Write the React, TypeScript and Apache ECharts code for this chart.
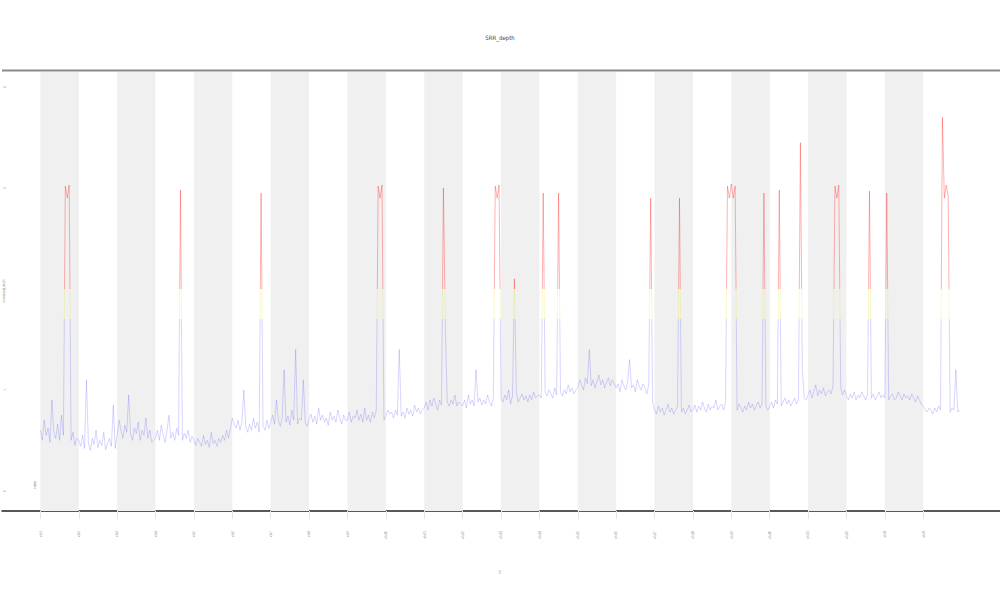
import React, { useEffect, useRef } from "react";
import * as echarts from "echarts";

const chartTitle = "SRR_depth";
const yAxisTitle = "normalized_depth";
const xAxisTitle = "bin";
const legendLabel = "ratio";

const segmentLabels = [
  "chr1", "chr2", "chr3", "chr4", "chr5", "chr6", "chr7", "chr8",
  "chr9", "chr10", "chr11", "chr12", "chr13", "chr14", "chr15", "chr16",
  "chr17", "chr18", "chr19", "chr20", "chr21", "chr22", "chrX", "chrY",
];

const yTickValues = [0, 1, 2, 3, 4];

// values per segment (20 samples each)
const segmentValues: number[][] = [
  [0.6, 0.5, 0.7, 0.55, 0.62, 0.48, 0.9, 0.58, 0.52, 0.66, 0.5, 0.75, 0.55, 3.02, 2.9, 3.03, 0.5, 0.58, 0.45, 0.52],
  [0.5, 0.44, 0.55, 0.42, 1.1, 0.48, 0.4, 0.52, 0.46, 0.6, 0.43, 0.5, 0.45, 0.58, 0.41, 0.47, 0.52, 0.44, 0.85, 0.42],
  [0.55, 0.7, 0.6, 0.52, 0.65, 0.58, 0.95, 0.56, 0.5, 0.62, 0.57, 0.68, 0.5, 0.6, 0.55, 0.72, 0.52, 0.6, 0.48, 0.5],
  [0.52, 0.6, 0.5, 0.65, 0.55, 0.48, 0.6, 0.75, 0.52, 0.58, 0.5, 0.62, 0.55, 2.98, 0.5, 0.57, 0.52, 0.6, 0.48, 0.54],
  [0.5, 0.45, 0.52, 0.48, 0.44, 0.55, 0.46, 0.5, 0.43, 0.58, 0.47, 0.5, 0.44, 0.52, 0.48, 0.55, 0.5, 0.6, 0.52, 0.62],
  [0.72, 0.66, 0.62, 0.7, 0.6, 0.68, 1.0, 0.64, 0.58, 0.66, 0.6, 0.72, 0.62, 0.68, 0.58, 2.95, 0.64, 0.6, 0.7, 0.62],
  [0.68, 0.75, 0.66, 0.9, 0.7, 0.64, 0.72, 1.2, 0.68, 0.74, 0.65, 0.8, 0.7, 1.4, 0.66, 0.72, 0.7, 1.1, 0.68, 0.64],
  [0.7, 0.76, 0.68, 0.74, 0.66, 0.82, 0.7, 0.75, 0.68, 0.72, 0.65, 0.78, 0.7, 0.74, 0.68, 0.8, 0.72, 0.66, 0.75, 0.7],
  [0.7, 0.78, 0.68, 0.74, 0.72, 0.8, 0.7, 0.76, 0.68, 0.82, 0.7, 0.75, 0.68, 0.78, 0.72, 0.8, 3.02, 2.9, 3.03, 0.7],
  [0.74, 0.8, 0.76, 0.78, 0.72, 0.8, 0.75, 1.4, 0.74, 0.78, 0.72, 0.82, 0.76, 0.8, 0.74, 0.85, 0.78, 0.82, 0.76, 0.8],
  [0.82, 0.88, 0.8, 0.9, 0.84, 0.92, 0.86, 0.8, 0.9, 0.85, 3.0, 1.6, 0.88, 0.84, 0.9, 0.86, 0.95, 0.84, 0.88, 0.86],
  [0.84, 0.9, 0.82, 0.95, 0.86, 0.9, 0.84, 1.2, 0.88, 0.92, 0.85, 0.9, 0.86, 0.95, 0.88, 0.84, 0.92, 3.02, 2.9, 3.03],
  [0.92, 0.88, 0.95, 0.9, 1.0, 0.86, 0.94, 2.1, 0.98, 0.88, 0.92, 0.96, 0.9, 0.94, 0.88, 0.95, 0.9, 0.98, 0.92, 0.94],
  [0.95, 0.92, 2.95, 0.98, 0.94, 1.0, 0.96, 0.92, 1.02, 0.95, 2.95, 0.98, 0.94, 1.0, 0.96, 1.05, 0.98, 1.02, 0.96, 1.0],
  [1.02, 1.1, 1.05, 1.0, 1.12, 1.06, 1.4, 1.04, 1.1, 1.02, 1.08, 1.15, 1.05, 1.1, 1.02, 1.08, 1.12, 1.04, 1.1, 1.06],
  [1.02, 1.06, 0.98, 1.1, 1.04, 1.0, 1.08, 1.3, 1.02, 1.05, 0.98, 1.1, 1.04, 1.0, 1.06, 1.02, 0.96, 1.05, 2.9, 0.88],
  [0.8, 0.76, 0.84, 0.78, 0.82, 0.75, 0.8, 0.86, 0.78, 0.82, 0.76, 0.8, 0.84, 2.9, 0.78, 0.82, 0.76, 0.8, 0.85, 0.78],
  [0.8, 0.85, 0.78, 0.84, 0.8, 0.88, 0.82, 0.78, 0.86, 0.8, 0.84, 0.82, 0.9, 0.8, 0.84, 0.86, 0.8, 0.88, 3.02, 2.9],
  [3.04, 2.9, 3.02, 0.8, 0.86, 0.82, 0.78, 0.84, 0.8, 0.88, 0.82, 0.86, 0.8, 0.84, 0.88, 0.82, 0.86, 2.95, 0.84, 0.8],
  [0.84, 0.88, 0.82, 0.9, 0.86, 2.98, 0.84, 0.88, 0.92, 0.86, 0.9, 0.84, 0.88, 0.92, 0.86, 0.9, 3.45, 1.2, 0.92, 0.9],
  [0.95, 1.0, 0.92, 0.98, 1.05, 0.94, 1.0, 0.96, 1.02, 0.94, 0.98, 1.0, 0.96, 1.04, 3.02, 2.9, 3.03, 1.02, 0.95, 1.0],
  [0.94, 0.9, 0.96, 0.92, 0.98, 0.9, 0.95, 0.92, 0.98, 0.94, 0.9, 0.96, 2.97, 0.92, 0.96, 0.9, 0.94, 0.98, 0.92, 0.95],
  [0.92, 2.95, 0.9, 0.94, 0.96, 0.9, 0.92, 0.98, 0.94, 0.9, 0.96, 0.92, 0.94, 0.9, 0.96, 0.92, 0.88, 0.94, 0.9, 0.86],
  [0.84, 0.8, 0.78, 0.82, 0.8, 0.76, 0.82, 0.78, 0.84, 0.8, 3.7, 2.9, 3.03, 2.92, 0.78, 0.82, 0.8, 1.2, 0.78, 0.8],
];

export default function App() {
  const ref = useRef<HTMLDivElement>(null);
  useEffect(() => {
    if (!ref.current) return;
    const chart = echarts.init(ref.current, null, { renderer: "svg" });

    const lineData: [number, number][] = [];
    segmentValues.forEach((vals, s) => {
      vals.forEach((v, i) => lineData.push([s + i / vals.length, v]));
    });

    const bands: any[] = [];
    for (let s = 0; s < segmentLabels.length; s += 2) {
      bands.push([{ xAxis: s }, { xAxis: s + 1 }]);
    }
    const tickPositions = segmentLabels.map((_, i) => i);

    chart.setOption({
      animation: false,
      backgroundColor: "#ffffff",
      grid: { left: 2, right: 0, top: 72, bottom: 89, containLabel: false },
      xAxis: {
        type: "value",
        min: -1,
        max: 25,
        interval: 1,
        axisLine: { show: true, onZero: false, lineStyle: { color: "#222", width: 1.5 } },
        axisTick: {
          show: true,
          length: 8,
          lineStyle: { color: "#e6e6e6", width: 1 },
          customValues: tickPositions,
        },
        axisLabel: {
          show: true,
          rotate: 90,
          fontSize: 3,
          color: "#888",
          margin: 20,
          customValues: tickPositions,
          formatter: (v: number) => segmentLabels[Math.round(v)] ?? "",
        },
        splitLine: { show: false },
      },
      yAxis: {
        type: "value",
        min: -0.2,
        max: 4.15,
        axisLine: { show: false },
        axisTick: { show: false },
        splitLine: { show: false },
        axisLabel: {
          show: true,
          inside: true,
          rotate: 90,
          fontSize: 3,
          color: "#999",
          margin: 1,
          customValues: yTickValues,
        },
      },
      visualMap: {
        show: false,
        type: "piecewise",
        dimension: 1,
        seriesIndex: 1,
        pieces: [
          { lt: 1.7, color: "rgba(60,60,255,0.42)" },
          { gte: 1.7, lt: 2.0, color: "rgba(225,225,0,0.4)" },
          { gte: 2.0, color: "rgba(255,0,0,0.6)" },
        ],
      },
      graphic: [
        {
          type: "line",
          shape: { x1: 2, y1: 70.5, x2: 1000, y2: 70.5 },
          style: { stroke: "#8a8a8a", lineWidth: 2 },
          z: 100,
        },
        {
          type: "text",
          x: 500,
          y: 37,
          style: {
            text: chartTitle,
            fontSize: 6,
            fill: "#444",
            align: "center",
            verticalAlign: "middle",
            fontFamily: "Liberation Sans Narrow, DejaVu Sans Condensed, sans-serif",
          },
        },
        {
          type: "text",
          x: 4,
          y: 291,
          rotation: Math.PI / 2,
          style: {
            text: yAxisTitle,
            fontSize: 3,
            fill: "#999",
            align: "center",
            verticalAlign: "middle",
          },
        },
        {
          type: "text",
          x: 500,
          y: 572,
          rotation: Math.PI / 2,
          style: {
            text: xAxisTitle,
            fontSize: 3,
            fill: "#999",
            align: "center",
            verticalAlign: "middle",
          },
        },
        {
          type: "text",
          x: 34,
          y: 485,
          rotation: Math.PI / 2,
          style: {
            text: legendLabel,
            fontSize: 4,
            fill: "#777",
            align: "center",
            verticalAlign: "middle",
          },
        },
      ],
      series: [
        {
          type: "line",
          data: [],
          silent: true,
          z: 1,
          markArea: {
            silent: true,
            itemStyle: { color: "#f0f0f0" },
            data: bands,
          },
        },
        {
          type: "line",
          data: lineData,
          z: 3,
          showSymbol: false,
          symbol: "none",
          silent: true,
          lineStyle: { width: 0.5, opacity: 1 },
        },
      ],
    });
    return () => chart.dispose();
  }, []);

  return <div ref={ref} style={{ width: 1000, height: 600, position: "absolute", left: 0, top: 0 }} />;
}
